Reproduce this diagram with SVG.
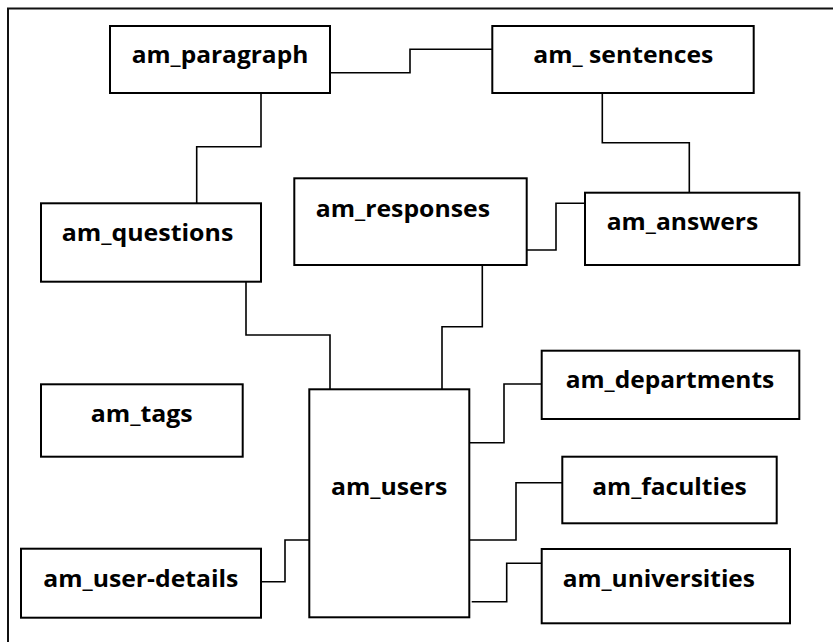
<svg xmlns="http://www.w3.org/2000/svg" width="833" height="642" viewBox="0 0 833 642">
<style>
.box{fill:#fff;stroke:#000;stroke-width:2}
.lbl{font-family:"Open Sans","Liberation Sans",Arial,sans-serif;font-weight:bold;font-size:24px;fill:#000}
.con{fill:none;stroke:#000;stroke-width:1.6}
</style>
<rect x="8" y="8.5" width="840" height="660" fill="#fff" stroke="#111" stroke-width="2"/>
<g id="connectors">
<path class="con" d="M330,72.7 H410 V49.3 H492"/>
<path class="con" d="M261,92.7 V146.7 H196.7 V203.3"/>
<path class="con" d="M602.3,92.7 V142.7 H689.3 V192.7"/>
<path class="con" d="M526.7,250 H556 V203.3 H586"/>
<path class="con" d="M482.3,265 V326.7 H442 V389.3"/>
<path class="con" d="M246,281.7 V335 H330 V389.3"/>
<path class="con" d="M261,581.7 H285 V540 H309.3"/>
<path class="con" d="M469.3,442.7 H504 V384 H541.7"/>
<path class="con" d="M469.3,540 H516 V482.7 H562.3"/>
<path class="con" d="M471.7,601.7 H506.7 V563.3 H541.7"/>
</g>
<g id="am_paragraph"><rect class="box" x="110" y="26" width="220" height="67"/><text class="lbl" x="131.7" y="63.3" textLength="176.6" lengthAdjust="spacingAndGlyphs">am_paragraph</text></g>
<g id="am_sentences"><rect class="box" x="492.3" y="26" width="261.4" height="67"/><text class="lbl" x="533.3" y="63.3" textLength="180" lengthAdjust="spacingAndGlyphs">am_ sentences</text></g>
<g id="am_questions"><rect class="box" x="41" y="203.3" width="220" height="78.4"/><text class="lbl" x="61.7" y="241" textLength="171.6" lengthAdjust="spacingAndGlyphs">am_questions</text></g>
<g id="am_responses"><rect class="box" x="294.3" y="178.3" width="232.4" height="86.7"/><text class="lbl" x="315.7" y="216.7" textLength="174.3" lengthAdjust="spacingAndGlyphs">am_responses</text></g>
<g id="am_answers"><rect class="box" x="585" y="192.7" width="214.3" height="72.3"/><text class="lbl" x="606.7" y="230" textLength="151.6" lengthAdjust="spacingAndGlyphs">am_answers</text></g>
<g id="am_tags"><rect class="box" x="41" y="384.3" width="201.7" height="72.4"/><text class="lbl" x="90.7" y="421.7" textLength="102" lengthAdjust="spacingAndGlyphs">am_tags</text></g>
<g id="am_users"><rect class="box" x="309.3" y="389.3" width="160" height="228"/><text class="lbl" x="331" y="495" textLength="116.3" lengthAdjust="spacingAndGlyphs">am_users</text></g>
<g id="am_user-details"><rect class="box" x="21" y="548.7" width="240" height="69"/><text class="lbl" x="43.3" y="586.7" textLength="195" lengthAdjust="spacingAndGlyphs">am_user-details</text></g>
<g id="am_departments"><rect class="box" x="541.7" y="350.7" width="257.6" height="68.3"/><text class="lbl" x="565.7" y="388.3" textLength="208.6" lengthAdjust="spacingAndGlyphs">am_departments</text></g>
<g id="am_faculties"><rect class="box" x="562.3" y="456.7" width="214.4" height="66.6"/><text class="lbl" x="592.3" y="495" textLength="154.4" lengthAdjust="spacingAndGlyphs">am_faculties</text></g>
<g id="am_universities"><rect class="box" x="541.7" y="549" width="248.3" height="74.3"/><text class="lbl" x="562.7" y="586.7" textLength="192.3" lengthAdjust="spacingAndGlyphs">am_universities</text></g>
</svg>
